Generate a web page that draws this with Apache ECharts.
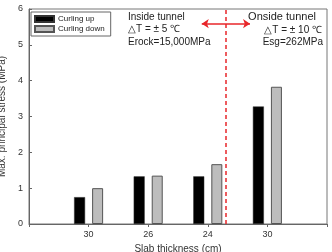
<!DOCTYPE html>
<html>
<head>
<meta charset="utf-8">
<script src="https://cdn.jsdelivr.net/npm/echarts@6/dist/echarts.min.js"></script>
<style>
  html, body { margin: 0; padding: 0; background: #fff; }
  #chart { width: 332px; height: 252px; }
</style>
</head>
<body>
<div id="chart"></div>
<script>
// slab thickness groups (left three inside tunnel, last one outside)
const categories = ['30', '26', '24', '30']
const curlingUp = [0.75, 1.33, 1.33, 3.28]
const curlingDown = [1.0, 1.35, 1.67, 3.83]
const yTicks = [0, 1, 2, 3, 4, 5, 6]

// category i sits at x = i + 1 on the value axis
const toPoints = (vals) => vals.map((v, i) => [i + 1, v])

const font = 'Liberation Sans, Arial, sans-serif'
const red = '#e8262a'

const chart = echarts.init(document.getElementById('chart'))

const option = {
  animation: false,
  textStyle: { fontFamily: font },
  grid: {
    left: 29, top: 9, right: 5, bottom: 28,
    containLabel: false,
    outerBoundsMode: 'none',
    show: true, borderColor: '#777', borderWidth: 1
  },
  legend: {
    data: ['Curling up', 'Curling down'],
    orient: 'vertical',
    left: 31, top: 12,
    padding: [3, 6, 3, 3],
    itemGap: 2,
    itemWidth: 19, itemHeight: 6,
    icon: 'rect',
    borderColor: '#666', borderWidth: 1,
    backgroundColor: '#fff',
    textStyle: { fontSize: 8, color: '#222', padding: [0, 0, 0, -1] }
  },
  xAxis: {
    type: 'value',
    min: 0, max: 5, interval: 1,
    name: 'Slab thickness (cm)',
    nameLocation: 'middle',
    nameGap: 20,
    nameTextStyle: { fontSize: 10, color: '#333' },
    axisLine: { lineStyle: { color: '#666' } },
    axisTick: { inside: false, length: 3, lineStyle: { color: '#666' } },
    axisLabel: {
      fontSize: 9, color: '#333', margin: 6,
      formatter: (v) => categories[v - 1] || ''
    },
    splitLine: { show: false }
  },
  yAxis: {
    type: 'value',
    min: yTicks[0], max: yTicks[yTicks.length - 1], interval: 1,
    name: 'Max. principal stress (MPa)',
    nameLocation: 'middle',
    nameGap: 15,
    nameTextStyle: { fontSize: 10, color: '#333' },
    axisLine: { show: true, lineStyle: { color: '#666' } },
    axisTick: { show: true, inside: true, length: 3, lineStyle: { color: '#666' } },
    axisLabel: { fontSize: 9, color: '#333', margin: 6 },
    splitLine: { show: false }
  },
  series: [
    {
      name: 'Curling up',
      type: 'bar',
      barWidth: 11,
      barGap: '64%',
      data: toPoints(curlingUp),
      itemStyle: { color: '#000', borderColor: '#333', borderWidth: 0.5 },
      markLine: {
        silent: true,
        label: { show: false },
        data: [
          [
            { coord: [3.46, 0], symbol: 'none', lineStyle: { color: red, width: 1.5, type: [4, 3] } },
            { coord: [3.46, 6], symbol: 'none' }
          ],
          [
            { coord: [3.05, 5.59], symbol: 'arrow', lineStyle: { color: red, width: 1.5, type: 'solid' } },
            { coord: [3.86, 5.59], symbol: 'arrow' }
          ]
        ],
        symbolSize: 7,
        lineStyle: { color: red }
      }
    },
    {
      name: 'Curling down',
      type: 'bar',
      barWidth: 11,
      data: toPoints(curlingDown),
      itemStyle: { color: '#bdbdbd', borderColor: '#555', borderWidth: 1 }
    }
  ],
  graphic: [
    { type: 'text', left: 128, top: 12, style: { text: 'Inside tunnel', font: '10px ' + font, fill: '#222' } },
    { type: 'text', left: 128, top: 24, style: { text: '\u25B3T = \u00B1 5 \u2103', font: '10px ' + font, fill: '#222' } },
    { type: 'text', left: 128, top: 37, style: { text: 'Erock=15,000MPa', font: '10px ' + font, fill: '#222' } },
    { type: 'text', right: 16, top: 11, style: { text: 'Onside tunnel', font: '11px ' + font, fill: '#222' } },
    { type: 'text', right: 10, top: 25, style: { text: '\u25B3T = \u00B1 10 \u2103', font: '10px ' + font, fill: '#222' } },
    { type: 'text', right: 9, top: 37, style: { text: 'Esg=262MPa', font: '10px ' + font, fill: '#222' } }
  ]
}

chart.setOption(option)
</script>
</body>
</html>
